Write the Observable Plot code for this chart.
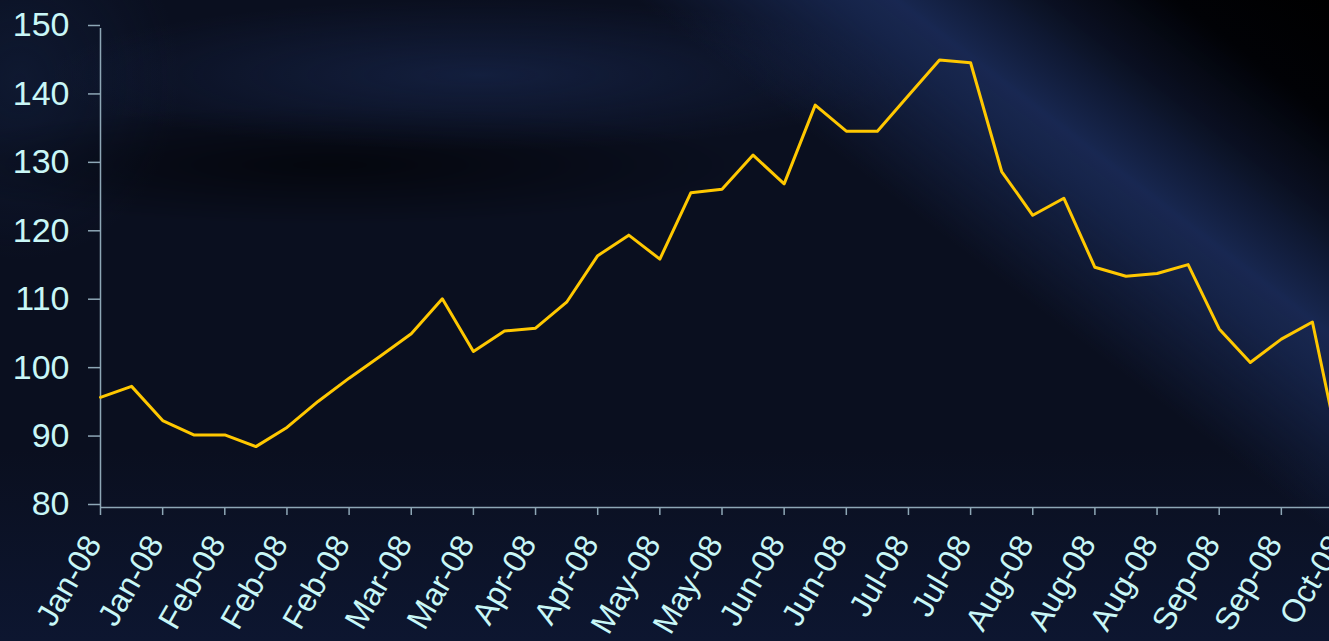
<!DOCTYPE html>
<html>
<head>
<meta charset="utf-8">
<script src="https://cdn.jsdelivr.net/npm/d3@7"></script>
<script src="https://cdn.jsdelivr.net/npm/@observablehq/plot@0.6"></script>
<style>
  html, body { margin: 0; padding: 0; width: 1329px; height: 641px; overflow: hidden; }
  body {
    background-color: #0a0f1e;
    background-image:
      linear-gradient(37.6deg, rgba(0,0,0,0) 0%, rgba(0,0,0,0) 68%, rgba(24,40,82,0.8) 77%, rgba(27,44,90,0.85) 80%, rgba(10,16,34,0.9) 87%, rgba(1,2,6,1) 93%, rgba(0,0,0,1) 100%),
      radial-gradient(ellipse 430px 75px at 480px 75px, rgba(28,46,92,0.5), rgba(28,46,92,0) 100%),
      radial-gradient(ellipse 420px 60px at 330px 165px, rgba(0,0,0,0.55), rgba(0,0,0,0) 100%),
      radial-gradient(ellipse 160px 180px at 20px 80px, rgba(20,36,70,0.45), rgba(20,36,70,0) 100%),
      linear-gradient(180deg, #0a0f1f 0%, #0a0f1f 70%, #0d1630 100%);
  }
  #chart { position: absolute; left: 0; top: 0; }
</style>
</head>
<body>
<div id="chart"></div>
<script>
// Weekly values, 2008
const values = [
  96.1, 97.7, 92.7, 90.6, 90.6, 88.9, 91.7, 95.5, 98.9, 102.1,
  105.4, 110.5, 102.8, 105.8, 106.2, 110.0, 116.8, 119.8, 116.3, 126.0,
  126.5, 131.5, 127.3, 138.8, 135.0, 135.0, 140.2, 145.4, 145.0, 129.1,
  122.7, 125.2, 115.1, 113.8, 114.2, 115.5, 106.1, 101.2, 104.6, 107.1,
  85.5
];
const tickLabels = [
  "Jan-08", "Jan-08", "Feb-08", "Feb-08", "Feb-08", "Mar-08", "Mar-08",
  "Apr-08", "Apr-08", "May-08", "May-08", "Jun-08", "Jun-08", "Jul-08",
  "Jul-08", "Aug-08", "Aug-08", "Aug-08", "Sep-08", "Sep-08", "Oct-08"
];
const yTicks = [80, 90, 100, 110, 120, 130, 140, 150];

const points = values.map((v, i) => ({i, v}));
const labels = tickLabels.map((t, k) => ({i: k * 2, t}));

const axisColor = "#8ea7b6";
const textColor = "#c9f7f7";

const chart = Plot.plot({
  width: 1360,
  height: 641,
  marginLeft: 100,
  marginRight: 17,
  marginTop: 28,
  marginBottom: 134,
  style: {background: "transparent", maxWidth: "none", overflow: "visible", fontFamily: "'Liberation Sans', Arial, sans-serif"},
  x: {domain: [0, 40], axis: null},
  y: {domain: [80, 150], axis: null},
  marks: [
    Plot.ruleX([0], {stroke: axisColor, strokeWidth: 1.5}),
    Plot.ruleY([80], {stroke: axisColor, strokeWidth: 1.5}),
    Plot.axisY({ticks: yTicks, tickSize: 12, tickPadding: 19, fontSize: 34, dy: -3, stroke: axisColor, fill: textColor, tickFormat: d => String(d), label: null, strokeWidth: 1.5}),
    Plot.axisX({ticks: labels.map(d => d.i), tickSize: 8, tickFormat: () => "", stroke: axisColor, strokeWidth: 1.5, label: null}),
    Plot.line(points, {x: "i", y: "v", stroke: "#ffc800", strokeWidth: 3}),
    Plot.text(labels, {x: "i", y: () => 80, text: "t", rotate: -60, textAnchor: "end", lineAnchor: "middle", dx: -7, dy: 31, fontSize: 32, fill: textColor})
  ]
});
document.getElementById("chart").appendChild(chart);
</script>
</body>
</html>
